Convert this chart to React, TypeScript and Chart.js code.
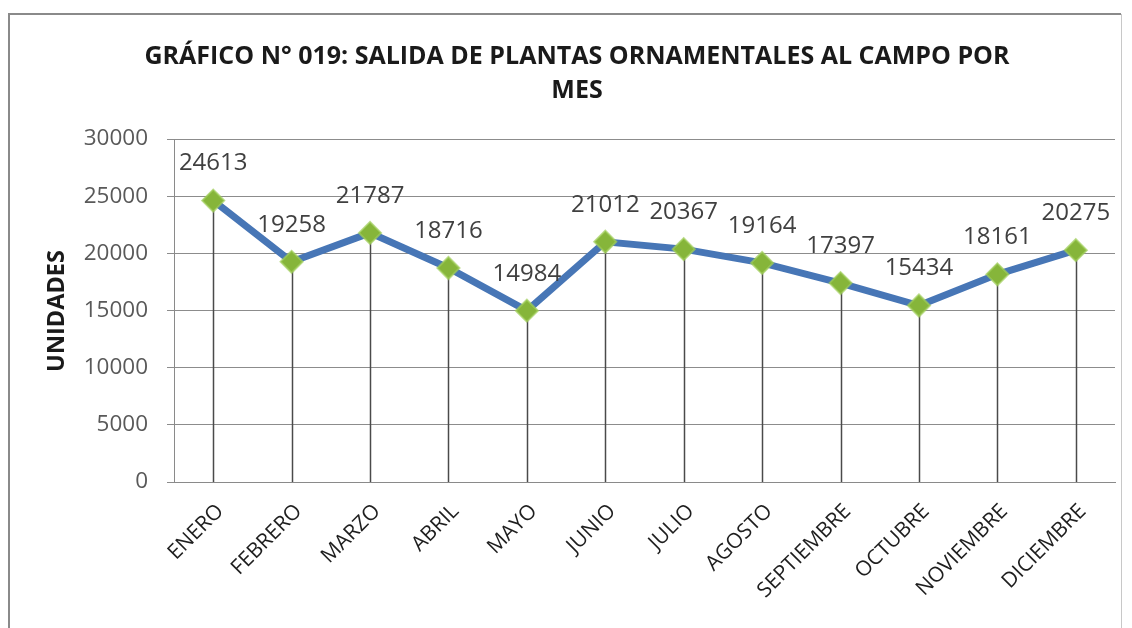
import { useEffect, useRef } from "react";
import { Chart, registerables } from "chart.js";

Chart.register(...registerables);

const months = [
  "ENERO",
  "FEBRERO",
  "MARZO",
  "ABRIL",
  "MAYO",
  "JUNIO",
  "JULIO",
  "AGOSTO",
  "SEPTIEMBRE",
  "OCTUBRE",
  "NOVIEMBRE",
  "DICIEMBRE",
];
const values = [24613, 19258, 21787, 18716, 14984, 21012, 20367, 19164, 17397, 15434, 18161, 20275];
const yMin = 0;
const yMax = 30000;
const yStep = 5000;
const titleLines = ["GRÁFICO N° 019: SALIDA DE PLANTAS ORNAMENTALES AL CAMPO POR", "MES"];
const yAxisTitle = "UNIDADES";

const W = 1132;
const H = 628;

const decorPlugin = {
  id: "decor",
  beforeDraw(chart: any) {
    const ctx = chart.ctx;
    ctx.save();
    ctx.fillStyle = "#ffffff";
    ctx.fillRect(0, 0, W, H);
    ctx.strokeStyle = "#8a8a8a";
    ctx.lineWidth = 2;
    ctx.beginPath();
    ctx.moveTo(9, H);
    ctx.lineTo(9, 14);
    ctx.lineTo(1121, 14);
    ctx.stroke();
    ctx.strokeStyle = "#c8c8c8";
    ctx.lineWidth = 1;
    ctx.beginPath();
    ctx.moveTo(1121.5, 14);
    ctx.lineTo(1121.5, H);
    ctx.stroke();
    ctx.restore();
  },
  beforeDatasetsDraw(chart: any) {
    const ctx = chart.ctx;
    const meta = chart.getDatasetMeta(0);
    const bottom = chart.scales.y.getPixelForValue(yMin);
    ctx.save();
    ctx.strokeStyle = "#4a4a4a";
    ctx.lineWidth = 1.5;
    meta.data.forEach((pt: any) => {
      ctx.beginPath();
      ctx.moveTo(Math.round(pt.x) + 0.5, pt.y);
      ctx.lineTo(Math.round(pt.x) + 0.5, bottom);
      ctx.stroke();
    });
    ctx.restore();
  },
  afterDatasetsDraw(chart: any) {
    const ctx = chart.ctx;
    const meta = chart.getDatasetMeta(0);
    ctx.save();
    ctx.font = "24px 'Open Sans'";
    ctx.fillStyle = "#404040";
    ctx.textAlign = "center";
    ctx.textBaseline = "middle";
    meta.data.forEach((pt: any, i: number) => {
      ctx.fillText(String(values[i]), pt.x, pt.y - 37);
    });
    ctx.restore();
  },
  afterDraw(chart: any) {
    const ctx = chart.ctx;
    ctx.save();
    ctx.fillStyle = "#1a1a1a";
    ctx.textAlign = "center";
    ctx.textBaseline = "middle";
    ctx.font = "bold 25px 'Open Sans'";
    ctx.fillText(titleLines[0], 577, 57);
    ctx.fillText(titleLines[1], 577, 91);
    ctx.translate(57, 311);
    ctx.rotate(-Math.PI / 2);
    ctx.font = "bold 23.5px 'Open Sans'";
    ctx.fillText(yAxisTitle, 0, 0);
    ctx.restore();
  },
};

export default function App() {
  const ref = useRef<HTMLCanvasElement | null>(null);

  useEffect(() => {
    if (!ref.current) return;
    const chart = new Chart(ref.current, {
      type: "line",
      data: {
        labels: months,
        datasets: [
          {
            data: values,
            borderColor: "#4776b6",
            borderWidth: 7,
            tension: 0,
            pointStyle: "rectRot",
            pointRadius: 11,
            pointHoverRadius: 11,
            pointBackgroundColor: "#86b53a",
            pointBorderColor: "rgba(160,205,90,0.7)",
            pointBorderWidth: 2,
          },
        ],
      },
      options: {
        responsive: false,
        animation: false,
        events: [],
        layout: { padding: { top: 139, left: 0, right: 17, bottom: 0 } },
        plugins: {
          legend: { display: false },
          title: { display: false },
          tooltip: { enabled: false },
        },
        scales: {
          x: {
            offset: true,
            grid: { display: false, drawTicks: false },
            border: { display: true, color: "#8a8a8a", width: 1 },
            ticks: {
              autoSkip: false,
              maxRotation: 45,
              minRotation: 45,
              labelOffset: 7,
              padding: 17,
              color: "#1e1e1e",
              font: { family: "'Open Sans'", size: 21 },
            },
            afterFit(scale: any) {
              scale.height = 146;
            },
          },
          y: {
            min: yMin,
            max: yMax,
            ticks: {
              stepSize: yStep,
              padding: 19,
              color: "#595959",
              font: { family: "'Open Sans'", size: 22.5 },
              callback: (v: any) => String(v),
            },
            grid: { color: "#8c8c8c", lineWidth: 1, tickLength: 7 },
            border: { display: true, color: "#8a8a8a", width: 1 },
            afterFit(scale: any) {
              scale.width = 174;
            },
          },
        },
      },
      plugins: [decorPlugin],
    });
    return () => chart.destroy();
  }, []);

  return (
    <canvas
      ref={ref}
      width={W}
      height={H}
      style={{ position: "fixed", left: 0, top: 0, width: W, height: H, display: "block" }}
    />
  );
}
